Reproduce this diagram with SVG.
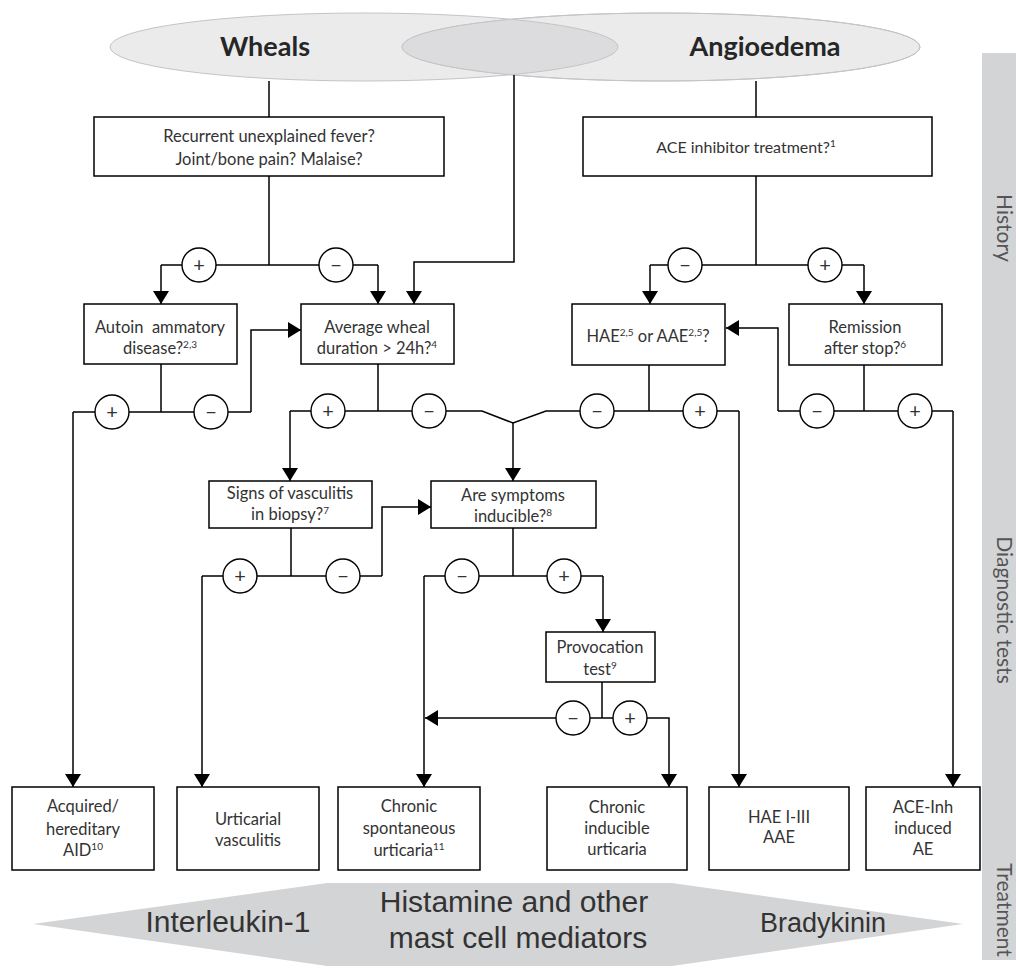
<svg xmlns="http://www.w3.org/2000/svg" width="1016" height="970" viewBox="0 0 1016 970">
<style>
.box{fill:#fff;stroke:#000;stroke-width:1.5}
.ln{fill:none;stroke:#000;stroke-width:1.5}
.arr{fill:none;stroke:#000;stroke-width:1.5;marker-end:url(#ah)}
.t{font-family:Lato,"Open Sans","Liberation Sans",sans-serif;font-size:16.5px;fill:#333;text-anchor:middle}
.sup{font-size:10px}
.ttl{font-family:Lato,"Open Sans","Liberation Sans",sans-serif;font-size:27px;font-weight:bold;fill:#262626;text-anchor:middle}
.side{font-family:Lato,"Open Sans","Liberation Sans",sans-serif;font-size:21px;fill:#555;text-anchor:middle}
.big{font-family:"Liberation Sans",Arial,sans-serif;font-size:30px;fill:#333;text-anchor:middle}
.c circle{fill:#fff;stroke:#000;stroke-width:1.4}
.c text{font-family:Lato,"Open Sans","Liberation Sans",sans-serif;font-size:20px;fill:#333;text-anchor:middle}
</style>
<defs>
<marker id="ah" viewBox="0 0 13 16" refX="13" refY="8" markerWidth="13" markerHeight="16" orient="auto" markerUnits="userSpaceOnUse">
<path d="M0,0 L13,8 L0,16 z" fill="#000"/>
</marker>
<clipPath id="angClip"><ellipse cx="661" cy="47" rx="259" ry="34"/></clipPath>
</defs>

<!-- side bar -->
<g id="sidebar">
<rect x="982" y="53" width="34" height="907" fill="#d3d4d6"/>
<text class="side" transform="translate(997,228) rotate(90)">History</text>
<text class="side" transform="translate(997,610) rotate(90)">Diagnostic tests</text>
<text class="side" transform="translate(997,910) rotate(90)">Treatment</text>
</g>

<!-- mediators arrow -->
<g id="mediators">
<polygon points="33,924 327,883 672,883 963,924 672,966 327,966" fill="#d3d4d6"/>
<text class="big" x="228" y="932">Interleukin-1</text>
<text class="big" x="514" y="912">Histamine and other</text>
<text class="big" x="518" y="948">mast cell mediators</text>
<text class="big" x="823" y="932" style="font-size:27px">Bradykinin</text>
</g>

<!-- ellipses -->
<g id="wheals">
<ellipse cx="364" cy="47" rx="254" ry="34" fill="#ebebec" stroke="#c4c4c4" stroke-width="1"/>
</g>
<g id="angioedema">
<ellipse cx="661" cy="47" rx="259" ry="34" fill="#ebebec" stroke="#c4c4c4" stroke-width="1"/>
<ellipse cx="364" cy="47" rx="254" ry="34" fill="#dcdcde" stroke="#c4c4c4" stroke-width="1" clip-path="url(#angClip)"/>
<ellipse cx="661" cy="47" rx="259" ry="34" fill="none" stroke="#c4c4c4" stroke-width="1"/>
<text class="ttl" x="265" y="56">Wheals</text>
<text class="ttl" x="765" y="56">Angioedema</text>
</g>

<!-- connectors -->
<g id="connectors">
<path class="ln" d="M269,81 V117"/>
<path class="ln" d="M756,81 V117"/>
<path class="ln" d="M269,176 V265 M161,265 H378"/>
<path class="arr" d="M161,265 V304"/>
<path class="arr" d="M378,265 V304"/>
<path class="arr" d="M514,75 V262 H414 V304"/>
<path class="ln" d="M756,176 V265 M650,265 H864"/>
<path class="arr" d="M650,265 V304"/>
<path class="arr" d="M864,265 V304"/>
<path class="ln" d="M161,364 V412 M73,412 H251"/>
<path class="arr" d="M73,412 V787"/>
<path class="arr" d="M251,412 V330 H301"/>
<path class="ln" d="M378,364 V411 M290,411 H482 L513,423 L546,411 H739 M649,365 V411"/>
<path class="arr" d="M290,411 V481"/>
<path class="arr" d="M513,423 V481"/>
<path class="arr" d="M739,411 V787"/>
<path class="ln" d="M864,365 V411 M778,411 H953"/>
<path class="arr" d="M778,411 V328 H726"/>
<path class="arr" d="M953,411 V787"/>
<path class="ln" d="M291,528 V576 M202,576 H382"/>
<path class="arr" d="M202,576 V787"/>
<path class="arr" d="M382,576 V507 H431"/>
<path class="ln" d="M513,528 V576 M424,576 H603"/>
<path class="arr" d="M424,576 V787"/>
<path class="arr" d="M603,576 V632"/>
<path class="ln" d="M602,682 V718"/>
<path class="arr" d="M602,718 H425"/>
<path class="arr" d="M602,718 H669 V787"/>
</g>

<!-- decision signs -->
<g id="signs" class="c">
<circle cx="199" cy="265" r="17"/><text x="199" y="272">+</text>
<circle cx="336" cy="265" r="17"/><text x="336" y="272">−</text>
<circle cx="685" cy="265" r="17"/><text x="685" y="272">−</text>
<circle cx="825" cy="265" r="17"/><text x="825" y="272">+</text>
<circle cx="112" cy="412" r="17"/><text x="112" y="419">+</text>
<circle cx="211" cy="412" r="17"/><text x="211" y="419">−</text>
<circle cx="328" cy="411" r="17"/><text x="328" y="418">+</text>
<circle cx="429" cy="411" r="17"/><text x="429" y="418">−</text>
<circle cx="597" cy="411" r="17"/><text x="597" y="418">−</text>
<circle cx="700" cy="411" r="17"/><text x="700" y="418">+</text>
<circle cx="817" cy="411" r="17"/><text x="817" y="418">−</text>
<circle cx="915" cy="411" r="17"/><text x="915" y="418">+</text>
<circle cx="240" cy="576" r="17"/><text x="240" y="583">+</text>
<circle cx="343" cy="576" r="17"/><text x="343" y="583">−</text>
<circle cx="462" cy="576" r="17"/><text x="462" y="583">−</text>
<circle cx="564" cy="576" r="17"/><text x="564" y="583">+</text>
<circle cx="573" cy="718" r="17"/><text x="573" y="725">−</text>
<circle cx="630" cy="718" r="17"/><text x="630" y="725">+</text>
</g>

<!-- nodes -->
<g id="q-fever">
<rect class="box" x="94" y="117" width="350" height="59"/>
<text class="t" x="269" y="142">Recurrent unexplained fever?</text>
<text class="t" x="269" y="165">Joint/bone pain? Malaise?</text>
</g>
<g id="q-ace">
<rect class="box" x="583" y="117" width="349" height="59"/>
<text class="t" x="746" y="153" style="font-size:16px">ACE inhibitor treatment?<tspan class="sup" dy="-6">1</tspan></text>
</g>
<g id="q-autoinflammatory">
<rect class="box" x="84" y="304" width="153" height="60"/>
<text class="t" x="160" y="333" xml:space="preserve">Autoin  ammatory</text>
<text class="t" x="160" y="354">disease?<tspan class="sup" dy="-6">2,3</tspan></text>
</g>
<g id="q-duration">
<rect class="box" x="301" y="304" width="153" height="60"/>
<text class="t" x="377" y="333">Average wheal</text>
<text class="t" x="377" y="354">duration &gt; 24h?<tspan class="sup" dy="-6">4</tspan></text>
</g>
<g id="q-hae">
<rect class="box" x="572" y="304" width="153" height="61"/>
<text class="t" x="648" y="342">HAE<tspan class="sup" dy="-6">2,5</tspan><tspan dy="6"> or AAE</tspan><tspan class="sup" dy="-6">2,5</tspan><tspan dy="6">?</tspan></text>
</g>
<g id="q-remission">
<rect class="box" x="789" y="304" width="153" height="61"/>
<text class="t" x="865" y="333">Remission</text>
<text class="t" x="865" y="354">after stop?<tspan class="sup" dy="-6">6</tspan></text>
</g>
<g id="q-vasculitis">
<rect class="box" x="209" y="481" width="163" height="47"/>
<text class="t" x="290" y="499">Signs of vasculitis</text>
<text class="t" x="290" y="520">in biopsy?<tspan class="sup" dy="-6">7</tspan></text>
</g>
<g id="q-inducible">
<rect class="box" x="431" y="481" width="165" height="47"/>
<text class="t" x="513" y="501">Are symptoms</text>
<text class="t" x="513" y="522">inducible?<tspan class="sup" dy="-6">8</tspan></text>
</g>
<g id="q-provocation">
<rect class="box" x="546" y="632" width="109" height="50"/>
<text class="t" x="600" y="653">Provocation</text>
<text class="t" x="600" y="675">test<tspan class="sup" dy="-6">9</tspan></text>
</g>
<g id="d-aid">
<rect class="box" x="12" y="787" width="142" height="83"/>
<text class="t" x="83" y="812">Acquired/</text>
<text class="t" x="83" y="835">hereditary</text>
<text class="t" x="83" y="856">AID<tspan class="sup" dy="-6">10</tspan></text>
</g>
<g id="d-uv">
<rect class="box" x="177" y="787" width="142" height="83"/>
<text class="t" x="248" y="825">Urticarial</text>
<text class="t" x="248" y="846">vasculitis</text>
</g>
<g id="d-csu">
<rect class="box" x="338" y="787" width="142" height="83"/>
<text class="t" x="409" y="812">Chronic</text>
<text class="t" x="409" y="834">spontaneous</text>
<text class="t" x="409" y="856">urticaria<tspan class="sup" dy="-6">11</tspan></text>
</g>
<g id="d-cindu">
<rect class="box" x="547" y="787" width="140" height="83"/>
<text class="t" x="617" y="813">Chronic</text>
<text class="t" x="617" y="834">inducible</text>
<text class="t" x="617" y="855">urticaria</text>
</g>
<g id="d-hae">
<rect class="box" x="709" y="787" width="140" height="83"/>
<text class="t" x="779" y="823">HAE I-III</text>
<text class="t" x="779" y="843">AAE</text>
</g>
<g id="d-ace">
<rect class="box" x="866" y="787" width="114" height="83"/>
<text class="t" x="923" y="813">ACE-Inh</text>
<text class="t" x="923" y="834">induced</text>
<text class="t" x="923" y="855">AE</text>
</g>
</svg>
